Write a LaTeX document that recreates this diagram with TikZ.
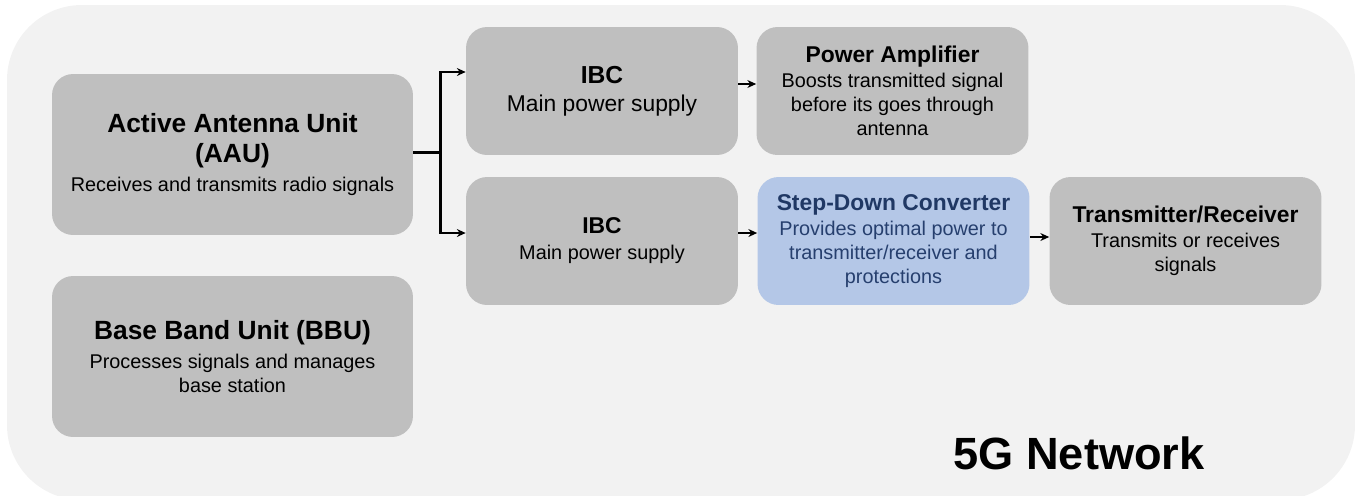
\documentclass[tikz,border=0pt]{standalone}
\usepackage{fontspec}
\setmainfont{Liberation Sans}
\usetikzlibrary{arrows.meta,calc}

\definecolor{bgpanel}{HTML}{F2F2F2}
\definecolor{unitgray}{HTML}{BFBFBF}
\definecolor{unitblue}{HTML}{B4C7E7}
\definecolor{navyhead}{HTML}{203864}
\definecolor{navytext}{HTML}{263F6E}

\newcommand{\hd}[1]{{\fontsize{13}{16}\selectfont\bfseries #1}}
\newcommand{\bighd}[1]{{\fontsize{15}{17}\selectfont\bfseries #1}}

\begin{document}
\begin{tikzpicture}
[x=0.02cm, y=-0.02cm, font=\fontsize{11.3}{13.6}\selectfont]

\tikzstyle{unit}=[rounded corners=0.42cm, fill=unitgray, align=center, inner sep=0pt, minimum width=5.44cm, minimum height=2.56cm]
\tikzstyle{bigunit}=[unit, minimum width=7.22cm, minimum height=3.22cm]
\tikzstyle{flow}=[line width=0.8pt, -{Stealth[length=5pt,width=4.5pt]}]

\useasboundingbox (0,0) rectangle (1355,495);
\fill[bgpanel, rounded corners=1.5cm] (7,5) rectangle (1355,500);

\node[bigunit]	(AAU)	at (232.5,154.5)	{\bighd{Active Antenna Unit}\\[3.2pt]\bighd{(AAU)}\\[3pt]Receives and transmits radio signals};
\node[bigunit]	(BBU)	at (232.5,356.5)	{\bighd{Base Band Unit (BBU)}\\[2.6pt]Processes signals and manages\\base station};

\node[unit]	(IBCa)	at (602,91)	{{\fontsize{14}{16}\selectfont\bfseries IBC}\\[2.4pt]{\fontsize{13}{16}\selectfont Main power supply}};
\node[unit]	(PA)	at (892.5,91)	{\hd{Power Amplifier}\\[0.8pt]Boosts transmitted signal\\before its goes through\\antenna};
\node[unit]	(IBCb)	at (602,241)	{\hd{IBC}\\[1.2pt]Main power supply};
\node[unit, fill=unitblue, text=navytext]	(SDC)	at (893.5,241)	{\textcolor{navyhead}{\hd{Step-Down Converter}}\\[0.6pt]Provides optimal power to\\transmitter/receiver and\\protections};
\node[unit]	(TR)	at (1185.5,241)	{\hd{Transmitter/Receiver}\\[0.8pt]Transmits or receives\\signals};

\node[font=\fontsize{25.7}{30}\selectfont\bfseries]	(NET)	at (1079,453)	{5G Network};

\coordinate (split) at ($(AAU.east)+(27,-2)$);
\draw[line width=1.4pt] (AAU.east |- split) -- (split);
\draw[flow, line width=1.4pt] (split) |- ($(IBCa.west)+(0,-19)$);
\draw[flow, line width=1.4pt] (split) |- ($(IBCb.west)+(0,-8)$);
\draw[flow] ($(IBCa.east)+(0,-7)$) -- ($(PA.west)+(0,-7)$);
\draw[flow] ($(IBCb.east)+(0,-8)$) -- ($(SDC.west)+(0,-8)$);
\draw[flow] ($(SDC.east)+(0,-4)$) -- ($(TR.west)+(0,-4)$);
\end{tikzpicture}
\end{document}
